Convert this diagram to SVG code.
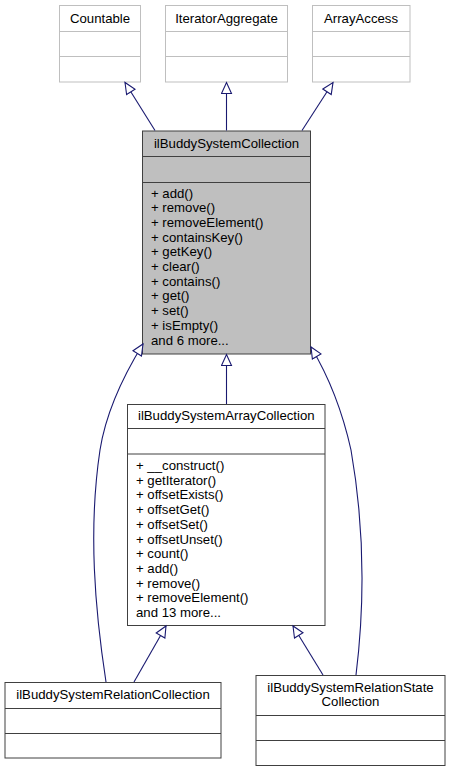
<svg xmlns="http://www.w3.org/2000/svg" width="451" height="772" viewBox="0 0 451 772">
<style>
text{font-family:"Liberation Sans",Arial,Helvetica,sans-serif;font-size:13.2px;fill:#000}
.t{text-anchor:middle}
.ext rect,.ext line{stroke:#bfbfbf;stroke-width:1;fill:#fff}
.cls rect,.cls line{stroke:#404040;stroke-width:1;fill:#fff}
#ilBuddySystemCollection rect{fill:#bfbfbf}
.edge{fill:none;stroke:#191970;stroke-width:1.1}
</style>
<defs>
<marker id="inh" markerUnits="userSpaceOnUse" markerWidth="14" markerHeight="12" viewBox="-1 -1 14 12" refX="11" refY="5" orient="auto">
<path d="M0,0 L11,5 L0,10 Z" fill="#fff" stroke="#191970" stroke-width="1.1"/>
</marker>
</defs>
<rect width="451" height="772" fill="#fff"/>
<g id="Countable" class="ext">
<rect x="59.5" y="5.5" width="81" height="76.5"/>
<line x1="59.5" y1="31.5" x2="140.5" y2="31.5"/>
<line x1="59.5" y1="56.5" x2="140.5" y2="56.5"/>
<text class="t" x="100" y="22.5">Countable</text>
</g>
<g id="IteratorAggregate" class="ext">
<rect x="165.5" y="5.5" width="122" height="76.5"/>
<line x1="165.5" y1="31.5" x2="287.5" y2="31.5"/>
<line x1="165.5" y1="56.5" x2="287.5" y2="56.5"/>
<text class="t" x="226.5" y="22.5">IteratorAggregate</text>
</g>
<g id="ArrayAccess" class="ext">
<rect x="312.5" y="5.5" width="97.5" height="76.5"/>
<line x1="312.5" y1="31.5" x2="410" y2="31.5"/>
<line x1="312.5" y1="56.5" x2="410" y2="56.5"/>
<text class="t" x="361" y="22.5">ArrayAccess</text>
</g>
<g id="ilBuddySystemCollection" class="cls">
<rect x="142.5" y="131" width="168" height="223"/>
<line x1="142.5" y1="156.5" x2="310.5" y2="156.5"/>
<line x1="142.5" y1="182.5" x2="310.5" y2="182.5"/>
<text class="t" x="226.5" y="147.5">ilBuddySystemCollection</text>
<text x="151" y="197.5">+ add()</text>
<text x="151" y="212.2">+ remove()</text>
<text x="151" y="226.9">+ removeElement()</text>
<text x="151" y="241.6">+ containsKey()</text>
<text x="151" y="256.3">+ getKey()</text>
<text x="151" y="271">+ clear()</text>
<text x="151" y="285.7">+ contains()</text>
<text x="151" y="300.4">+ get()</text>
<text x="151" y="315.1">+ set()</text>
<text x="151" y="329.8">+ isEmpty()</text>
<text x="151" y="344.5">and 6 more...</text>
</g>
<g id="ilBuddySystemArrayCollection" class="cls">
<rect x="127.5" y="404.5" width="197.5" height="221"/>
<line x1="127.5" y1="428.5" x2="325" y2="428.5"/>
<line x1="127.5" y1="454" x2="325" y2="454"/>
<text class="t" x="226.3" y="420">ilBuddySystemArrayCollection</text>
<text x="136" y="470">+ __construct()</text>
<text x="136" y="484.7">+ getIterator()</text>
<text x="136" y="499.4">+ offsetExists()</text>
<text x="136" y="514.1">+ offsetGet()</text>
<text x="136" y="528.8">+ offsetSet()</text>
<text x="136" y="543.5">+ offsetUnset()</text>
<text x="136" y="558.2">+ count()</text>
<text x="136" y="572.9">+ add()</text>
<text x="136" y="587.6">+ remove()</text>
<text x="136" y="602.3">+ removeElement()</text>
<text x="136" y="617">and 13 more...</text>
</g>
<g id="ilBuddySystemRelationCollection" class="cls">
<rect x="5" y="682.5" width="216" height="75.5"/>
<line x1="5" y1="708.5" x2="221" y2="708.5"/>
<line x1="5" y1="733.5" x2="221" y2="733.5"/>
<text class="t" x="113" y="699">ilBuddySystemRelationCollection</text>
</g>
<g id="ilBuddySystemRelationStateCollection" class="cls">
<rect x="256" y="675.5" width="189" height="90"/>
<line x1="256" y1="715.5" x2="445" y2="715.5"/>
<line x1="256" y1="740.5" x2="445" y2="740.5"/>
<text class="t" x="350.5" y="691.5">ilBuddySystemRelationState</text>
<text class="t" x="350.5" y="706">Collection</text>
</g>
<g id="connectors">
<path class="edge" marker-end="url(#inh)" d="M155,130.5 L125,82.5"/>
<path class="edge" marker-end="url(#inh)" d="M226.5,130.5 L226.5,82.5"/>
<path class="edge" marker-end="url(#inh)" d="M302,130.5 L333,82.5"/>
<path class="edge" marker-end="url(#inh)" d="M226.5,404 L226.5,354.5"/>
<path class="edge" marker-end="url(#inh)" d="M106,682 C95,610 88,530 100,450 C106,412 122,378 143,344"/>
<path class="edge" marker-end="url(#inh)" d="M356,675 C364,610 365,530 351,450 C343,414 332,382 311,347"/>
<path class="edge" marker-end="url(#inh)" d="M134,682 L166,626"/>
<path class="edge" marker-end="url(#inh)" d="M323,675 L293,626"/>
</g>
</svg>
